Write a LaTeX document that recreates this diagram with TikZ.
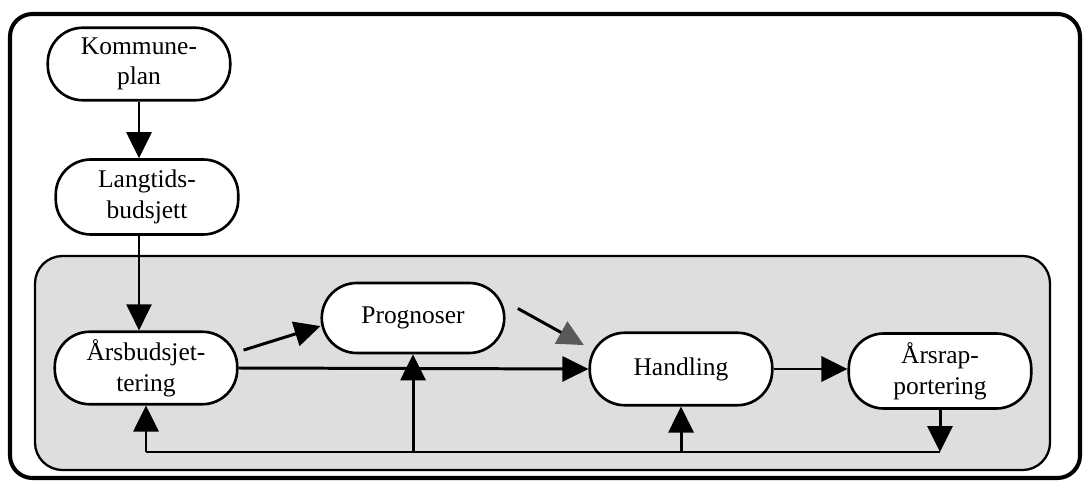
\documentclass[tikz,border=0pt]{standalone}
\usepackage{fontspec}
\setmainfont{Liberation Serif}
\usetikzlibrary{arrows.meta,positioning}

\begin{document}
\begin{tikzpicture}[x=0.02cm, y=-0.02cm, font=\fontsize{14.5}{17.5}\selectfont]
\tikzset{
  box/.style={rectangle, rounded corners=0.7cm, draw=black, line width=1.5pt, fill=white,
    minimum width=3.65cm, minimum height=1.45cm, align=center, inner sep=2pt},
  arr/.style={-{Triangle[length=0.52cm, width=0.5cm]}, line width=1.7pt},
  link/.style={line width=1.7pt},
}
\useasboundingbox (0,0) rectangle (1084,482);
% frames
\draw[line width=2.3pt, rounded corners=0.45cm] (10,14) rectangle (1080,478);
\draw[line width=1.3pt, rounded corners=0.55cm, fill=black!13] (35,256) rectangle (1050,470);
% nodes
\node[box] (kom) at (139,64) {Kommune-\\plan};
\node[box, minimum height=1.5cm] (lang) at (147,197) {Langtids-\\budsjett};
\node[box] (aars) at (146,368) {Årsbudsjet-\\tering};
\node[box, minimum height=1.4cm] (prog) at (413,318) {Prognoser};
\node[box] (hand) at (681,369) {Handling};
\node[box, minimum height=1.5cm] (rap) at (940,371) {Årsrap-\\portering};
\coordinate (fb) at (0,452);
% connectors
\draw[arr] (kom.south) -- (kom.south |- lang.north);
\draw[arr, line width=1.2pt] (lang.south -| kom) -- (aars.north -| kom);
\draw[arr, shorten <=3pt] (aars.10) -- (prog.185);
\draw[-{Triangle[length=0.52cm, width=0.5cm, color=black!65]}, line width=1.7pt,
  shorten <=8pt, shorten >=3pt] (prog.10) -- (hand.167);
\draw[arr] (aars.east) -- (hand.west);
\draw[arr] (hand.east) -- (hand.east -| rap.west);
\draw[arr] (rap.south) -- (rap.south |- fb);
\draw[link] (rap.south |- fb) -- (aars.south |- fb);
\draw[arr] (aars.south |- fb) -- (aars.south);
\draw[arr] (prog.south |- fb) -- (prog.south);
\draw[arr] (hand.south |- fb) -- (hand.south);
\end{tikzpicture}
\end{document}
